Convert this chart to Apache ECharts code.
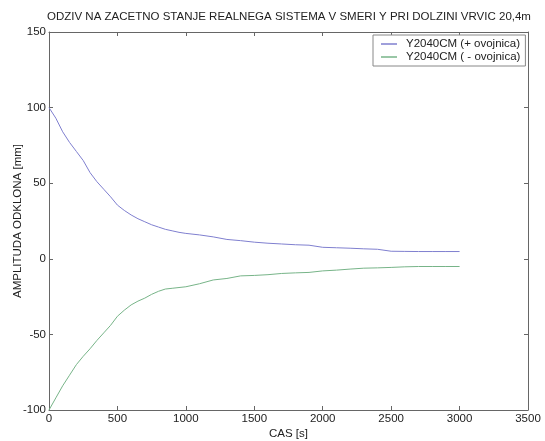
<!DOCTYPE html>
<html><head><meta charset="utf-8">
<script src="https://cdn.jsdelivr.net/npm/echarts@6/dist/echarts.min.js"></script>
<style>html,body{margin:0;padding:0;background:#fff}#c{width:545px;height:441px}</style>
</head><body><div id="c"></div>
<script>
const title = 'ODZIV NA ZACETNO STANJE REALNEGA SISTEMA V SMERI Y PRI DOLZINI VRVIC 20,4m';
const xName = 'CAS [s]';
const yName = 'AMPLITUDA ODKLONA [mm]';
const seriesNames = ['Y2040CM (+ ovojnica)', 'Y2040CM ( - ovojnica)'];
const times = [0,50,100,150,200,250,300,350,400,450,500,550,600,650,700,750,800,850,900,950,1000,1100,1200,1300,1400,1500,1600,1700,1800,1900,2000,2100,2200,2300,2400,2500,2600,2700,2800,2900,3000];
const upper = [100,93,84,77,71,65,57,51,46,41,35.5,32,29,26.5,24.5,22.5,21,19.5,18.5,17.5,16.8,15.8,14.5,12.8,12,11,10.3,9.8,9.3,9,7.6,7.3,7,6.6,6.3,5,4.9,4.8,4.8,4.8,4.8];
const lower = [-100,-92,-84,-77,-70,-64.5,-59.5,-54,-49,-44,-38,-34,-30.5,-28,-26,-23.5,-21.5,-20,-19.5,-19,-18.5,-16.5,-14,-13,-11.3,-11,-10.5,-9.7,-9.3,-9,-8,-7.5,-6.8,-6.2,-6,-5.7,-5.3,-5.1,-5.1,-5.1,-5.1];
const xTicks = {min:0, max:3500, interval:500};
const yTicks = {min:-100, max:150, interval:50};

const font = 'Liberation Sans, Arial, sans-serif';
const axisCol = '#666';
const chart = echarts.init(document.getElementById('c'));
const grid = {left:49, top:32, width:479, height:378, containLabel:false, outerBoundsMode:'none'};
function axisCommon(show){
  return {
    axisLine:{show:true, onZero:false, lineStyle:{color:axisCol, width:1}},
    axisTick:{show:true, inside:true, length:4, lineStyle:{color:axisCol}},
    splitLine:{show:false},
    axisLabel:{show:show, color:'#222', fontSize:11.5, fontFamily:font, margin:3, formatter:v=>String(v)}
  };
}
chart.setOption({
  animation:false,
  title:{text:title, left:47, textAlign:'left', top:11, padding:0, textStyle:{fontSize:11.5, fontWeight:'normal', color:'#222', fontFamily:font}},
  grid:grid,
  legend:{
    orient:'vertical', left:373, top:35, padding:[3,5,3,8], itemGap:1,
    itemWidth:16, itemHeight:1.5, icon:'rect',
    borderColor:'#888', borderWidth:1, backgroundColor:'#fff',
    textStyle:{fontSize:11.5, color:'#222', fontFamily:font, padding:[0,0,0,4]},
    data:seriesNames
  },
  xAxis:[
    Object.assign({type:'value', position:'bottom', min:xTicks.min, max:xTicks.max, interval:xTicks.interval,
      name:xName, nameLocation:'middle', nameGap:18, nameMoveOverlap:false, nameTextStyle:{fontSize:11.5, color:'#222', fontFamily:font}}, axisCommon(true)),
    Object.assign({type:'value', position:'top', min:xTicks.min, max:xTicks.max, interval:xTicks.interval}, axisCommon(false))
  ],
  yAxis:[
    Object.assign({type:'value', position:'left', min:yTicks.min, max:yTicks.max, interval:yTicks.interval,
      name:yName, nameLocation:'middle', nameGap:25, nameMoveOverlap:false, nameTextStyle:{fontSize:11.5, color:'#222', fontFamily:font}}, axisCommon(true)),
    Object.assign({type:'value', position:'right', min:yTicks.min, max:yTicks.max, interval:yTicks.interval}, axisCommon(false))
  ],
  series:[
    {name:seriesNames[0], type:'line', symbol:'none', lineStyle:{color:'#7f7fcf', width:1}, itemStyle:{color:'#7f7fcf'},
      data:times.map((t,i)=>[t, upper[i]])},
    {name:seriesNames[1], type:'line', symbol:'none', lineStyle:{color:'#77b488', width:1}, itemStyle:{color:'#77b488'},
      data:times.map((t,i)=>[t, lower[i]])}
  ]
});
</script></body></html>
